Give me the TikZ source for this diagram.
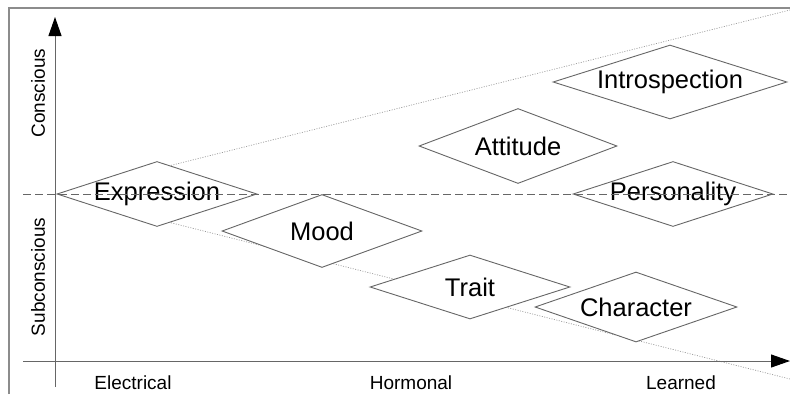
\documentclass[tikz,border=0pt]{standalone}
\usepackage{fontspec}
\setmainfont{Liberation Sans}
\usetikzlibrary{shapes.geometric,arrows.meta}
\begin{document}
\begin{tikzpicture}[x=1pt,y=-1pt,
  dia/.style={shape=diamond, draw=black!60, fill=white, inner sep=0pt, line width=0.9pt,
    label={[font=\fontsize{25.5}{30}\selectfont]center:#1}},
  axislbl/.style={font=\fontsize{19}{22}\selectfont, inner sep=0pt},
  axisline/.style={draw=black!60, line width=1pt},
  guide/.style={draw=black!40, line width=0.7pt, dash pattern=on 1pt off 1.5pt},
  midline/.style={draw=black!60, line width=0.9pt, dash pattern=on 8pt off 4pt},
  tip/.style={-{Triangle[length=19pt,width=13pt,black]}}]
\useasboundingbox (0,0) rectangle (790,394);
% frame
\draw[black!45, line width=1.5pt] (9,394) -- (9,8) -- (791,8);
% guide lines (behind diamonds)
\coordinate (o) at (57,194);
\coordinate (ue) at (790,10);
\coordinate (le) at (790,379);
\draw[guide] (o) -- (ue);
\draw[guide] (o) -- (le);
% diamonds
\node[dia=Expression, minimum width=200pt, minimum height=65pt] (expr) at (157,194) {};
\node[dia=Mood, minimum width=200pt, minimum height=73pt] (mood) at (322,231) {};
\node[dia=Trait, minimum width=200pt, minimum height=64pt] (trait) at (470,287) {};
\node[dia=Character, minimum width=202pt, minimum height=70pt] (char) at (636,307) {};
\node[dia=Personality, minimum width=200pt, minimum height=65pt] (pers) at (673,194) {};
\node[dia=Attitude, minimum width=198pt, minimum height=75pt] (att) at (518,146) {};
\node[dia=Introspection, minimum width=234pt, minimum height=74pt] (intro) at (670,82) {};
% dashed middle line
\coordinate (ml) at (23,194);
\coordinate (mr) at (790,194);
\draw[midline] (ml) -- (mr);
% axes
\coordinate (yb) at (55,387);
\coordinate (yt) at (55,17);
\coordinate (xl) at (23,361);
\coordinate (xr) at (790,361);
\draw[axisline, tip] (yb) -- (yt);
\draw[axisline, tip] (xl) -- (xr);
% axis labels
\node[axislbl, rotate=90] (con) at (38,93) {Conscious};
\node[axislbl, rotate=90] (sub) at (38,277) {Subconscious};
\node[axislbl] (ele) at (133,383) {Electrical};
\node[axislbl] (hor) at (411,383) {Hormonal};
\node[axislbl] (lea) at (681,383) {Learned};
\end{tikzpicture}
\end{document}
